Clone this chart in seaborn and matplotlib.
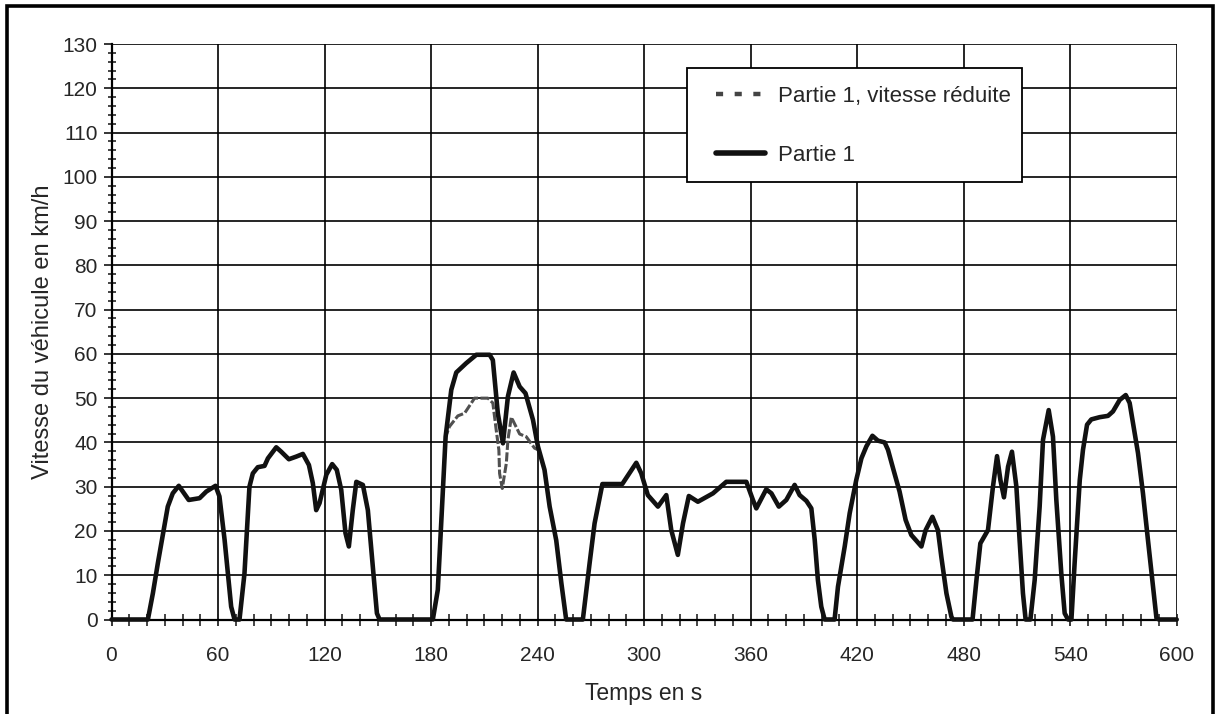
import numpy as np
import pandas as pd
import matplotlib
matplotlib.use("Agg")
import matplotlib.pyplot as plt
import seaborn as sns
from matplotlib.patches import Rectangle
from matplotlib.ticker import MultipleLocator

# Partie 1
time_part1 = [0, 20.5, 23.3, 26.1, 31.7, 34.5, 37.9, 43.5, 49.6, 53.4, 58.6, 60.8, 63.7,
              67.4, 69.3, 72.1, 74.9, 77.7, 79.6, 82.4, 86.2, 88.1, 92.8, 95.6, 99.9,
              104.1, 107.8, 111.2, 113.4, 115.3, 117.2, 121.0, 124.3, 126.9, 129.4,
              131.8, 133.7, 135.9, 137.9, 141.6, 144.4, 147.2, 149.5, 151, 181.0,
              183.8, 185.7, 188.2, 191.4, 194.2, 199.8, 205.5, 213.0, 214.8, 217.6,
              220.5, 223.3, 226.5, 229.9, 233.2, 237.4, 240.2, 243.9, 246.8, 250.5,
              253.4, 256.1, 265.5, 269.3, 272.1, 276.5, 287.7, 295.6, 298.4, 302.1,
              307.8, 312.5, 315.3, 319.0, 321.9, 325.2, 330.3, 338.8, 346.3, 357.6,
              361.3, 363.2, 368.8, 371.7, 375.9, 380.1, 384.8, 387.6, 391.4, 394.2,
              396.1, 397.9, 399.8, 401.7, 407.3, 409.2, 413.0, 415.8, 419.5, 422.4,
              425.2, 428.6, 431.7, 435.5, 437.4, 440.2, 443.9, 447.3, 450.5, 456.2,
              458.6, 462.4, 465.5, 467.4, 470.3, 473.1, 474, 485, 487.2, 489.4,
              493.7, 496.5, 498.8, 500.7, 502.7, 505.0, 507.2, 509.7, 511.5, 513.4,
              514.9, 517.6, 520.0, 522.8, 524.7, 527.9, 530.3, 532.2, 535.0, 536.9,
              538.8, 540.7, 542.5, 545.4, 547.2, 549.5, 551.9, 556.6, 561.3, 564.1,
              567.9, 571.3, 573.5, 578.2, 581.0, 583.8, 586.7, 588.6, 590, 600]
speed_part1 = [0, 0, 5.9, 12.7, 25.5, 28.5, 30.2, 27.0, 27.4, 28.9, 30.2, 27.8, 18.0,
               2.9, 0, 0, 10.4, 30.0, 33.0, 34.4, 34.7, 36.4, 38.9, 37.9, 36.2,
               36.8, 37.4, 34.9, 30.8, 24.7, 26.3, 32.7, 35.1, 33.8, 29.3,
               19.5, 16.5, 24.7, 31.1, 30.4, 24.7, 11.9, 1.4, 0, 0,
               6.7, 21.7, 41.3, 51.9, 55.8, 57.9, 59.8, 59.8, 58.6, 46.6,
               39.8, 50.4, 55.8, 52.6, 51.1, 45.1, 39.1, 33.8, 25.5, 17.9,
               8.2, 0, 0, 12.7, 21.7, 30.6, 30.6, 35.4, 33.0, 28.1,
               25.5, 28.1, 20.2, 14.6, 21.7, 27.9, 26.6, 28.5, 31.1, 31.1,
               27.0, 25.1, 29.4, 28.5, 25.5, 27.0, 30.4, 28.1, 26.8, 25.1,
               18.0, 8.9, 2.9, 0, 0, 7.4, 16.5, 24.0, 31.5, 36.4,
               39.1, 41.5, 40.4, 40.0, 38.3, 34.2, 28.9, 22.5, 19.1, 16.5,
               20.2, 23.2, 20.2, 14.2, 5.9, 0.6, 0, 0, 8.9, 17.2,
               20.2, 30.0, 36.9, 31.5, 27.6, 34.5, 37.9, 30.0, 18.0, 5.9,
               0, 0, 8.9, 25.5, 40.6, 47.3, 41.3, 27.0, 10.4, 1.4,
               0, 0, 12.7, 31.5, 38.3, 44.0, 45.2, 45.7, 46.0, 47.0,
               49.6, 50.7, 48.9, 37.6, 28.5, 18.0, 7.4, 0.3, 0, 0]

# Partie 1, vitesse réduite (only where it leaves Partie 1)
time_reduced = [183.8, 185.7, 188.2, 190.4, 195.1, 198.9, 204.5, 212.0, 214.8, 216.7,
                218.2, 218.6, 220.1, 222.4, 223.3, 225.2, 229.9, 233.6, 238.3, 240.6,
                243.9]
speed_reduced = [6.7, 21.7, 41.3, 43.6, 46.0, 46.6, 50.0, 50.0, 48.9, 42.8,
                 38.3, 33.0, 29.6, 35.3, 40.6, 45.7, 41.9, 41.3, 38.7, 38.3,
                 33.8]

df_full = pd.DataFrame({"t": time_part1, "v": speed_part1})
df_red = pd.DataFrame({"t": time_reduced, "v": speed_reduced})

sns.set_style("white")
plt.rcParams["font.family"] = ["Liberation Sans", "DejaVu Sans"]

W, H = 1218, 714
fig = plt.figure(figsize=(W / 100, H / 100), dpi=100)
ax = fig.add_axes([111.5 / W, 1 - 619.5 / H, (1176.7 - 111.5) / W, (619.5 - 44) / H])

sns.lineplot(data=df_red, x="t", y="v", ax=ax, sort=False, estimator=None,
             color="#505050", linewidth=2.2, zorder=3, label="Partie 1, vitesse réduite")
red_line = ax.lines[-1]
red_line.set_dashes([3.0, 0.8])
sns.lineplot(data=df_full, x="t", y="v", ax=ax, sort=False, estimator=None,
             color="#111111", linewidth=3.3, zorder=4, label="Partie 1")
full_line = ax.lines[-1]
for ln in (red_line, full_line):
    ln.set_clip_on(False)
    ln.set_solid_joinstyle("round")

ax.set_xlim(0, 600)
ax.set_ylim(0, 130)
ax.xaxis.set_major_locator(MultipleLocator(60))
ax.xaxis.set_minor_locator(MultipleLocator(10))
ax.yaxis.set_major_locator(MultipleLocator(10))
ax.yaxis.set_minor_locator(MultipleLocator(2))
ax.grid(True, which="major", color="black", linewidth=1.2)
ax.set_axisbelow(True)
for side in ["top", "right"]:
    ax.spines[side].set_visible(False)
for side in ["left", "bottom"]:
    ax.spines[side].set_linewidth(1.6)
    ax.spines[side].set_color("black")

ax.tick_params(axis="y", which="major", direction="out", length=6, width=1.3,
               labelsize=15, pad=4, left=True)
ax.tick_params(axis="y", which="minor", direction="inout", length=6, width=1.2, left=True)
ax.tick_params(axis="x", which="major", direction="inout", length=8, width=1.3,
               labelsize=15, pad=15, bottom=True)
ax.tick_params(axis="x", which="minor", direction="inout", length=8, width=1.2, bottom=True)

ax.set_xlabel("Temps en s", fontsize=16.5, labelpad=12)
ax.set_ylabel("Vitesse du véhicule en km/h", fontsize=17, labelpad=6)

# legend box drawn separately (white, black border), above the curves
ax.add_patch(Rectangle((686.7 / W, 1 - 181.7 / H), (1021.7 - 686.7) / W,
                       (181.7 - 68.3) / H, transform=fig.transFigure,
                       facecolor="white", edgecolor="black", linewidth=1.3,
                       zorder=5, clip_on=False))

leg = ax.legend(loc="upper left", bbox_to_anchor=(716 / W, 1 - 86 / H),
                bbox_transform=fig.transFigure, frameon=False, fontsize=16,
                handlelength=2.2, handletextpad=0.6, borderpad=0,
                labelspacing=1.7, borderaxespad=0)
leg_lines = leg.get_lines()
leg_lines[0].set_linewidth(3.2)
leg_lines[0].set_color("#444444")
leg_lines[0].set_dashes([1.6, 2.6])
leg_lines[1].set_linewidth(4.0)
leg.set_zorder(6)

# outer frame around the whole chart
fig.patches.append(Rectangle((6.5 / W, -0.05), (1213 - 6.5) / W, 1.05 - 5.5 / H,
                             transform=fig.transFigure, fill=False,
                             edgecolor="black", linewidth=2.6, clip_on=False))

fig.savefig("out.png", dpi=100)
plt.close(fig)
